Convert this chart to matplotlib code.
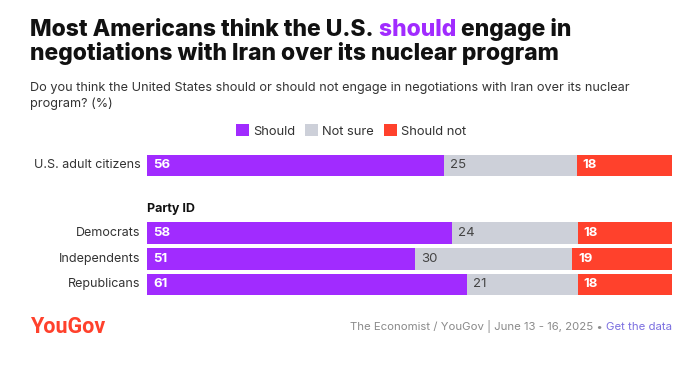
import matplotlib
matplotlib.use("Agg")
import matplotlib.pyplot as plt
from matplotlib.patches import Patch
import numpy as np

plt.rcParams['font.family'] = ['Inter', 'DejaVu Sans']

categories = ["U.S. adult citizens", "Democrats", "Independents", "Republicans"]
should = [56, 58, 51, 61]
not_sure = [25, 24, 30, 21]
should_not = [18, 18, 19, 18]
series_names = ["Should", "Not sure", "Should not"]
colors = ["#A12BFF", "#CDD0D9", "#FF412C"]
text_colors = ["white", "#444444", "white"]
text_weights = ["bold", "normal", "bold"]
positions = [0, 2.62, 3.62, 4.62]
group_label = "Party ID"

W, H = 698, 368
fig = plt.figure(figsize=(W / 100, H / 100), dpi=100)

def fx(px):
    return px / W

def fy(py):
    return 1 - py / H

# bar axes
top_px, bot_px = 150, 300
ax = fig.add_axes([fx(147), fy(bot_px), fx(672) - fx(147), (bot_px - top_px) / H])
unit = 25.75
ax.set_ylim((bot_px - 165.5) / unit, (top_px - 165.5) / unit)
ax.set_xlim(0, 1)
ax.axis('off')

data = np.array([should, not_sure, should_not], dtype=float)
totals = data.sum(axis=0)
left = np.zeros(len(categories))
for i, name in enumerate(series_names):
    widths = data[i] / totals
    ax.barh(positions, widths, left=left, height=0.84, color=colors[i], label=name)
    for j, p in enumerate(positions):
        ax.annotate(f"{int(data[i][j])}", xy=(left[j], p), xytext=(4.5, 0),
                    textcoords='offset points', va='center', ha='left',
                    fontsize=9.5, color=text_colors[i], fontweight=text_weights[i])
    left += widths

for j, p in enumerate(positions):
    ax.annotate(categories[j], xy=(0, p), xytext=(-4.5, 0), textcoords='offset points',
                ha='right', va='center', fontsize=9.0, color="#333333")

ax.text(0, (209 - 165.5) / unit, group_label, ha='left', va='center',
        fontsize=9, fontweight='bold', color="#111111")

# legend
handles = [Patch(facecolor=c, edgecolor='none') for c in colors]
fig.legend(handles, series_names, loc='center', bbox_to_anchor=(fx(351), fy(131)),
           ncol=3, frameon=False, fontsize=9.3, handlelength=1.05, handleheight=1.05,
           handletextpad=0.3, columnspacing=0.75, borderpad=0, labelcolor="#333333")

# title
tkw = dict(fontsize=16.5, fontweight='heavy', color="#111111", va='baseline')
t1 = fig.text(fx(30), fy(36), "Most Americans think the U.S.", **tkw)
t2 = fig.text(0, 0, " should", **{**tkw, 'color': "#A12BFF"})
t3 = fig.text(0, 0, " engage in", **tkw)
fig.text(fx(30), fy(60), "negotiations with Iran over its nuclear program", **tkw)

fig.text(fx(30), fy(91), "Do you think the United States should or should not engage in negotiations with Iran over its nuclear",
         fontsize=9.15, color="#333333", va='baseline')
fig.text(fx(30), fy(107), "program? (%)", fontsize=9.15, color="#333333", va='baseline')

# footer
fig.text(fx(30), fy(333), "YouGov", fontsize=15.5, fontweight='bold', color="#FF412C",
         va='baseline', family=['Roboto', 'DejaVu Sans'])
f2 = fig.text(fx(672), fy(330), "Get the data", fontsize=8.2, color="#7B6FE0",
              ha='right', va='baseline')
f1 = fig.text(0, 0, "The Economist / YouGov | June 13 - 16, 2025 \u2022 ", fontsize=8.2,
              color="#8A8A8A", ha='right', va='baseline')

fig.canvas.draw()
r = fig.canvas.get_renderer()
inv = fig.transFigure.inverted()
b1 = t1.get_window_extent(r)
t2.set_position([inv.transform((b1.x1, 0))[0], fy(36)])
b2 = t2.get_window_extent(r)
t3.set_position([inv.transform((b2.x1, 0))[0], fy(36)])
bf = f2.get_window_extent(r)
f1.set_position([inv.transform((bf.x0, 0))[0], fy(330)])

fig.savefig("out.png", dpi=100)
